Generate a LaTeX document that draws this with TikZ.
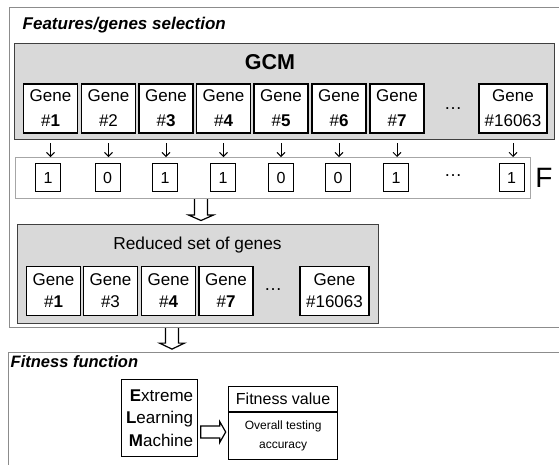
\documentclass[tikz,border=0pt]{standalone}
\usepackage{fontspec}
\setmainfont{Liberation Sans}
\usetikzlibrary{arrows.meta,calc}
\definecolor{panelfill}{HTML}{D9D9D9}
\definecolor{panelline}{HTML}{404040}
\definecolor{sectline}{HTML}{8C8C8C}
\definecolor{rowline}{HTML}{A6A6A6}
\newcommand{\fs}[2]{\fontsize{#1}{#2}\selectfont}
\begin{document}
\begin{tikzpicture}[x=1pt,y=-1pt,
  sect/.style={draw=sectline,line width=1.1pt,anchor=north west,inner sep=0pt},
  sectlabel/.style={anchor=west,inner sep=0pt},
  panel/.style={draw=panelline,fill=panelfill,line width=1.3pt,anchor=north west,inner sep=0pt},
  gene/.style={draw=black,fill=white,line width=1.2pt,minimum width=54pt,minimum height=49pt,
    inner sep=0pt,align=center,font=\fs{17}{25}},
  rgene/.style={gene,font=\fs{17}{22}},
  bit/.style={draw=black,fill=white,line width=1pt,minimum width=25pt,minimum height=28pt,
    inner sep=0pt,font=\fs{16}{18}},
  ellipsis/.style={inner sep=0pt,font=\fs{18}{20}},
  thin arrow/.style={line width=0.9pt,-{Straight Barb[length=4pt,width=8pt]}},
  harrow/.style={draw=black,fill=white,line width=1.2pt,line join=miter},
  plainbox/.style={draw=black,fill=white,line width=1.2pt,inner sep=0pt}]
\useasboundingbox (0,0) rectangle (559,464);

% ---- feature selection section ----
\node[sect,minimum width=556pt,minimum height=320pt] (sel) at (9,7) {};
\node[sectlabel,font=\fs{17}{20}\bfseries\itshape] (seltitle) at (22.5,25) {Features/genes selection};

\node[panel,minimum width=540pt,minimum height=96pt] (gcm) at (14,43) {};
\node[font=\fs{21.5}{24}\bfseries,inner sep=0pt] (gcmlabel) at (270,62) {GCM};

\node[gene] (g1) at (50.5,108.5) {Gene\\\#\textbf{1}};
\node[gene] (g2) at (108.5,108.5) {Gene\\\#2};
\node[gene] (g3) at (166,108.5) {Gene\\\#\textbf{3}};
\node[gene] (g4) at (223.5,108.5) {Gene\\\#\textbf{4}};
\node[gene] (g5) at (281,108.5) {Gene\\\#\textbf{5}};
\node[gene] (g6) at (339,108.5) {Gene\\\#\textbf{6}};
\node[gene] (g7) at (397,108.5) {Gene\\\#\textbf{7}};
\node[ellipsis] (gdots) at (453,108.5) {\dots};
\node[gene,minimum width=68pt] (gn) at (513,108.5) {Gene\\\#16063};

% binary selection vector F
\node[draw=rowline,line width=1pt,anchor=north west,minimum width=515pt,minimum height=41pt,inner sep=0pt] (frow) at (15,157) {};
\node[bit] (b1) at (48,177.5) {1};
\node[bit] (b2) at (107.5,177.5) {0};
\node[bit] (b3) at (165,177.5) {1};
\node[bit] (b4) at (223,177.5) {1};
\node[bit] (b5) at (281,177.5) {0};
\node[bit] (b6) at (338,177.5) {0};
\node[bit] (b7) at (396,177.5) {1};
\node[ellipsis] (bdots) at (453,176) {\dots};
\node[bit] (bn) at (511.5,177.5) {1};
\node[font=\fs{28}{30},inner sep=0pt] (flabel) at (544,178) {F};

\foreach \g in {g1,g2,g3,g4,g5,g6,g7,gn}
  \draw[thin arrow] ([yshift=-3pt]\g.south |- gcm.south) -- (\g.south |- frow.north);

% hollow arrow into the reduced set
\coordinate (a1) at (frow.south -| 201,0);
\draw[harrow] ([xshift=-6.5pt]a1) -- ++(0,16) -- ++(-6,0) -- ++(12.5,5.5) -- ++(12.5,-5.5) -- ++(-6,0) -- ++(0,-16);

\node[panel,minimum width=361pt,minimum height=99pt] (red) at (17,224) {};
\node[font=\fs{17.3}{20},inner sep=0pt] (redlabel) at (197.5,245) {Reduced set of genes};
\node[rgene] (r1) at (53.5,291) {Gene\\\#\textbf{1}};
\node[rgene] (r3) at (110.5,291) {Gene\\\#3};
\node[rgene] (r4) at (168.5,291) {Gene\\\#\textbf{4}};
\node[rgene] (r7) at (226,291) {Gene\\\#\textbf{7}};
\node[ellipsis] (rdots) at (273,290) {\dots};
\node[rgene,minimum width=69pt] (rn) at (334.5,291) {Gene\\\#16063};

% hollow arrow into the fitness section
\coordinate (a2) at (sel.south -| 172,0);
\draw[harrow] ([xshift=-6.5pt]a2) -- ++(0,15) -- ++(-6,0) -- ++(12.5,6) -- ++(12.5,-6) -- ++(-6,0) -- ++(0,-15);

% ---- fitness function section ----
\node[sect,minimum width=560pt,minimum height=130pt] (fit) at (8,352) {};
\node[sectlabel,font=\fs{16.5}{19}\bfseries\itshape] (fittitle) at (10.5,362) {Fitness function};

\node[plainbox,anchor=north west,minimum width=76pt,minimum height=77pt,align=right,
  font=\fs{17}{22.5},inner xsep=3pt] (elm) at (121,379)
  {\textbf{E}xtreme\\\textbf{L}earning\\\textbf{M}achine};

\node[plainbox,anchor=north west,minimum width=109pt,minimum height=25pt,font=\fs{16}{18}] (fv) at (228,386) {Fitness value};
\node[plainbox,anchor=north,minimum width=109pt,minimum height=47pt,align=center,font=\fs{12}{19}] (acc) at (fv.south) {Overall testing\\accuracy};

\coordinate (a3) at ([xshift=2.5pt]elm.east |- 0,420);
\draw[harrow] ([yshift=-6pt]a3) -- ++(19,0) -- ++(0,-4.5) -- ++(6,10.5) -- ++(-6,10.5) -- ++(0,-4.5) -- ++(-19,0) -- cycle;
\end{tikzpicture}
\end{document}
